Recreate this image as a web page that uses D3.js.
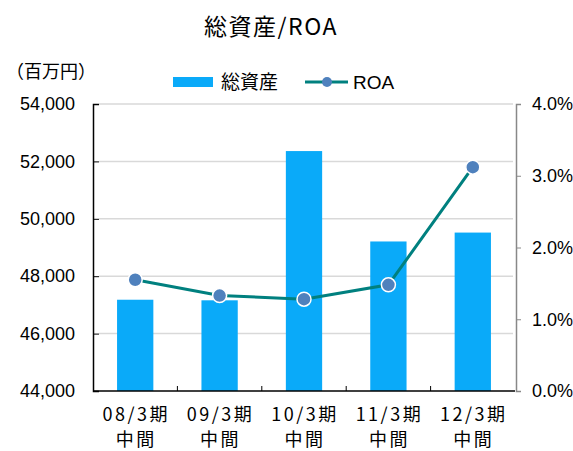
<!DOCTYPE html>
<html>
<head>
<meta charset="utf-8">
<script src="https://cdn.jsdelivr.net/npm/d3@7"></script>
<style>
  body { margin: 0; background: #fff; }
  svg text { font-family: "Liberation Sans", "Noto Sans CJK JP", sans-serif; fill: #000; }
  svg text.jp { font-family: "Noto Sans CJK JP", sans-serif; }
</style>
</head>
<body>
<div id="chart"></div>
<script>
// data
const periods = ["08/3期", "09/3期", "10/3期", "11/3期", "12/3期"];
const periodSub = ["中間", "中間", "中間", "中間", "中間"];
const totalAssets = [47180, 47160, 52360, 49210, 49520];
const roa = [1.55, 1.33, 1.28, 1.48, 3.12];
const leftTicks = [44000, 46000, 48000, 50000, 52000, 54000];
const rightTicks = [0, 1, 2, 3, 4];

const margin = { top: 104, right: 58, bottom: 60, left: 93 };
const width = 573 - margin.left - margin.right;
const height = 451 - margin.top - margin.bottom;

const svg = d3.select("#chart").append("svg")
    .attr("width", 573)
    .attr("height", 451);

const g = svg.append("g")
    .attr("transform", `translate(${margin.left},${margin.top})`);

const x = d3.scaleBand()
    .domain(periods)
    .range([0, width])
    .paddingInner(0.57)
    .paddingOuter(0.285);

const xOuter = d3.scaleBand()
    .domain(periods)
    .range([0, width]);

const cx = d => xOuter(d) + xOuter.bandwidth() / 2;

const yLeft = d3.scaleLinear()
    .domain([44000, 54000])
    .range([height, 0]);

const yRight = d3.scaleLinear()
    .domain([0, 4])
    .range([height, 0]);

// gridlines
g.append("g")
    .selectAll("line")
    .data(leftTicks.slice(1))
    .enter()
    .append("line")
    .attr("x1", 6)
    .attr("x2", width - 2)
    .attr("y1", d => yLeft(d))
    .attr("y2", d => yLeft(d))
    .attr("stroke", "#d9d9d9")
    .attr("stroke-width", 1.5);

// bars
g.selectAll(".bar")
    .data(totalAssets)
    .enter()
    .append("rect")
    .attr("class", "bar")
    .attr("x", (d, i) => x(periods[i]))
    .attr("y", d => yLeft(d))
    .attr("width", x.bandwidth())
    .attr("height", d => height - yLeft(d))
    .attr("fill", "#0AAAF9");

// left axis
const leftAxis = g.append("g")
    .call(d3.axisLeft(yLeft).tickValues(leftTicks).tickSize(-6).tickPadding(18).tickFormat(d3.format(",")));
leftAxis.select(".domain").attr("stroke", "#000").attr("stroke-width", 1.5);
leftAxis.selectAll(".tick line").attr("stroke", "#000");
leftAxis.selectAll("text").style("font-size", "18px");

// right axis
const rightAxis = g.append("g")
    .attr("transform", `translate(${width + 1},0)`)
    .call(d3.axisRight(yRight).tickValues(rightTicks).tickSize(5).tickPadding(11).tickFormat(d => d3.format(".1f")(d) + "%"));
rightAxis.select(".domain").attr("stroke", "#888").attr("stroke-width", 1.5);
rightAxis.selectAll(".tick line").attr("stroke", "#888");
rightAxis.selectAll("text").style("font-size", "18px");

// bottom axis with boundary ticks
const bottom = g.append("g").attr("transform", `translate(0,${height})`);
bottom.append("line")
    .attr("x1", 0).attr("x2", width)
    .attr("stroke", "#000").attr("stroke-width", 1.5);
bottom.selectAll(".bt")
    .data(periods.slice(1))
    .enter()
    .append("line")
    .attr("x1", d => xOuter(d)).attr("x2", d => xOuter(d))
    .attr("y1", 0).attr("y2", -5)
    .attr("stroke", "#000");

const labels = bottom.selectAll(".xl")
    .data(periods)
    .enter()
    .append("text")
    .attr("class", "jp")
    .attr("text-anchor", "middle")
    .style("font-size", "18px")
    .style("letter-spacing", "2.5px");
labels.append("tspan").attr("x", d => cx(d) + 1).attr("y", 30).text(d => d);
labels.append("tspan").attr("x", d => cx(d) + 1).attr("y", 55).text((d, i) => periodSub[i]);

// ROA line
const line = d3.line()
    .x((d, i) => cx(periods[i]))
    .y(d => yRight(d));

g.append("path")
    .datum(roa)
    .attr("fill", "none")
    .attr("stroke", "#00807F")
    .attr("stroke-width", 3)
    .attr("d", line);

g.selectAll(".dot")
    .data(roa)
    .enter()
    .append("circle")
    .attr("cx", (d, i) => cx(periods[i]))
    .attr("cy", d => yRight(d))
    .attr("r", 7)
    .attr("fill", "#4F81BD")
    .attr("stroke", "#fff")
    .attr("stroke-width", 1.5);

// title
svg.append("text")
    .attr("class", "jp")
    .attr("x", 271)
    .attr("y", 35)
    .attr("text-anchor", "middle")
    .style("font-size", "23px")
    .style("letter-spacing", "1.5px")
    .text("総資産/ROA");

// unit
svg.append("text")
    .attr("class", "jp")
    .attr("x", 6)
    .attr("y", 78)
    .style("font-size", "18px")
    .text("（百万円）");

// legend
const legend = svg.append("g");
legend.append("rect")
    .attr("x", 173).attr("y", 77)
    .attr("width", 40).attr("height", 10)
    .attr("fill", "#0AAAF9");
legend.append("text")
    .attr("class", "jp")
    .attr("x", 221).attr("y", 89)
    .style("font-size", "19px")
    .text("総資産");
legend.append("line")
    .attr("x1", 305).attr("x2", 348)
    .attr("y1", 82).attr("y2", 82)
    .attr("stroke", "#00807F").attr("stroke-width", 3);
legend.append("circle")
    .attr("cx", 327).attr("cy", 82).attr("r", 5)
    .attr("fill", "#4F81BD");
legend.append("text")
    .attr("x", 353).attr("y", 89)
    .style("font-size", "19px")
    .text("ROA");
</script>
</body>
</html>
